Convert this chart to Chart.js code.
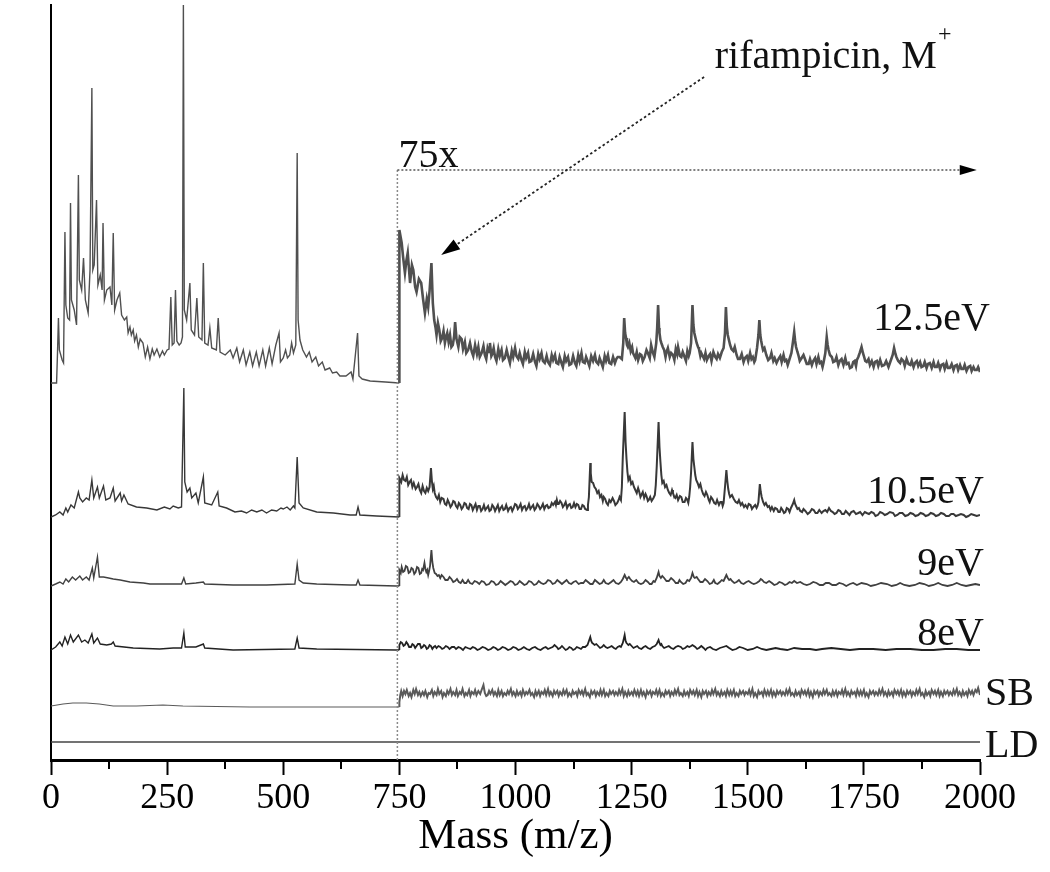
<!DOCTYPE html>
<html>
<head>
<meta charset="utf-8">
<script src="https://cdn.jsdelivr.net/npm/chart.js@4.4.1/dist/chart.umd.min.js"></script>
<style>
  html, body { margin: 0; padding: 0; background: #fff; }
  #wrap { width: 1050px; height: 872px; }
</style>
</head>
<body>
<div id="wrap"><canvas id="spectra" width="1050" height="872"></canvas></div>
<script>
// x axis ticks (m/z)
const massTicks = [0, 250, 500, 750, 1000, 1250, 1500, 1750, 2000];
const minorTicks = [125, 375, 625, 875, 1125, 1375, 1625, 1875];

// trace names, bottom-to-top stacking offsets (display units)
const seriesNames = ['12.5eV', '10.5eV', '9eV', '8eV', 'SB', 'LD'];
const offsets = [377, 243, 174, 110, 53, 18];

// [m/z, intensity above its own baseline]; right part (>750) is shown magnified 75x
const left125 = [[0,0],[12,0],[14,30],[16,65],[18,33],[24,23],[27,20],[30,151],[32,78],[36,65],[40,63],[42,180],[44,83],[50,73],[55,58],[59,208],[61,103],[66,93],[70,125],[74,83],[80,70],[84,113],[88,295],[90,113],[93,118],[98,183],[101,98],[106,108],[110,93],[112,160],[115,83],[120,93],[127,96],[131,78],[134,150],[137,73],[142,83],[148,90],[152,68],[158,63],[163,66],[166,50],[170,56],[173,48],[177,53],[180,42],[184,48],[188,36],[192,44],[198,40],[203,26],[208,36],[213,24],[218,34],[222,28],[228,34],[234,26],[240,32],[244,28],[250,33],[254,34],[258,86],[261,38],[265,40],[268,93],[271,42],[276,38],[280,40],[283,46],[285,378],[287,73],[292,63],[299,100],[302,53],[309,48],[314,85],[318,46],[325,43],[328,120],[331,40],[338,38],[342,55],[346,35],[356,33],[360,65],[364,31],[375,28],[386,33],[392,25],[400,35],[406,21],[414,33],[420,18],[428,31],[434,17],[442,31],[448,17],[456,33],[462,17],[470,35],[476,19],[484,38],[491,50],[494,21],[500,25],[505,33],[509,25],[514,28],[518,40],[522,30],[527,38],[530,230],[532,63],[536,43],[542,33],[550,26],[556,31],[562,21],[570,26],[576,17],[584,21],[590,13],[600,15],[606,10],[615,11],[622,7],[635,7],[646,11],[650,4],[660,50],[663,7],[670,4],[687,2],[720,1],[750,0]];
const right125 = [[750,0],[750,153],[755,140],[758,126],[762,110],[765,122],[768,130],[771,112],[773,100],[777,118],[780,113],[784,96],[787,91],[792,104],[797,100],[801,84],[805,70],[809,84],[812,76],[815,92],[819,120],[822,80],[825,63],[828,55],[830,48],[833,60],[836,53],[839,42],[842,45],[845,52],[848,40],[851,47],[853,50],[856,41],[859,48],[862,36],[865,38],[868,47],[870,61],[873,44],[877,36],[880,46],[884,44],[887,34],[891,41],[894,30],[898,33],[902,40],[906,31],[909,27],[913,38],[917,29],[920,36],[923,26],[927,30],[931,37],[934,28],[937,24],[940,35],[943,31],[945,40],[948,27],[950,29],[953,35],[956,26],[959,22],[963,34],[966,27],[970,33],[973,23],[977,25],[981,33],[985,25],[988,20],[992,32],[995,26],[999,35],[1002,27],[1006,24],[1009,30],[1013,23],[1016,19],[1020,31],[1023,25],[1027,30],[1030,21],[1034,22],[1038,29],[1042,21],[1045,17],[1049,29],[1052,24],[1056,30],[1059,22],[1063,20],[1067,27],[1070,21],[1074,18],[1078,28],[1081,23],[1085,28],[1088,20],[1092,19],[1095,26],[1099,20],[1102,16],[1106,27],[1109,22],[1113,26],[1116,18],[1120,19],[1124,27],[1128,20],[1131,17],[1135,28],[1138,22],[1142,30],[1145,21],[1149,20],[1152,26],[1156,21],[1159,17],[1163,27],[1167,22],[1171,28],[1174,21],[1178,19],[1181,25],[1185,20],[1188,16],[1192,27],[1195,22],[1199,28],[1202,20],[1206,19],[1210,26],[1214,20],[1217,24],[1220,26],[1224,26],[1229,24],[1232,40],[1234,65],[1236,50],[1238,45],[1240,38],[1242,36],[1245,40],[1248,32],[1251,36],[1253,30],[1256,27],[1258,25],[1261,31],[1264,23],[1268,29],[1271,28],[1274,22],[1278,26],[1282,33],[1285,30],[1289,25],[1292,38],[1296,30],[1299,26],[1303,40],[1305,55],[1307,78],[1309,55],[1310,50],[1312,43],[1314,40],[1317,36],[1320,33],[1323,26],[1325,31],[1328,35],[1332,26],[1335,30],[1339,28],[1342,23],[1345,34],[1348,29],[1350,36],[1354,27],[1357,26],[1360,31],[1364,26],[1367,22],[1370,32],[1373,27],[1375,30],[1378,40],[1381,78],[1383,58],[1385,50],[1388,44],[1390,40],[1393,36],[1395,34],[1398,27],[1400,30],[1403,27],[1406,24],[1409,30],[1412,23],[1416,27],[1419,29],[1422,22],[1426,31],[1430,26],[1433,24],[1436,29],[1440,25],[1444,31],[1448,35],[1451,50],[1453,76],[1455,56],[1457,48],[1460,42],[1462,38],[1465,34],[1469,32],[1472,36],[1476,28],[1479,24],[1483,24],[1487,29],[1491,21],[1494,25],[1498,27],[1501,22],[1505,30],[1508,24],[1511,26],[1514,21],[1516,23],[1520,35],[1523,48],[1525,63],[1527,48],[1529,42],[1531,37],[1533,33],[1536,35],[1540,28],[1544,23],[1548,25],[1551,30],[1555,22],[1558,25],[1562,20],[1566,24],[1570,27],[1573,21],[1577,28],[1580,22],[1583,23],[1586,18],[1588,21],[1594,30],[1597,40],[1600,51],[1602,42],[1604,36],[1607,31],[1609,28],[1612,22],[1616,25],[1620,28],[1624,23],[1627,19],[1631,19],[1634,24],[1638,18],[1641,22],[1645,25],[1648,19],[1652,26],[1655,20],[1658,21],[1661,16],[1663,20],[1667,30],[1670,46],[1672,38],[1674,33],[1677,28],[1681,26],[1684,21],[1688,22],[1691,26],[1695,18],[1698,22],[1702,24],[1706,18],[1710,25],[1713,19],[1717,20],[1720,15],[1724,16],[1727,21],[1730,22],[1733,17],[1735,23],[1738,26],[1741,30],[1745,36],[1748,30],[1750,27],[1753,22],[1756,21],[1760,24],[1763,18],[1767,22],[1771,16],[1774,21],[1778,22],[1781,17],[1785,23],[1789,17],[1794,18],[1798,22],[1803,16],[1806,20],[1809,24],[1812,28],[1815,35],[1818,29],[1820,26],[1824,22],[1828,20],[1831,24],[1835,22],[1838,17],[1842,24],[1846,19],[1850,18],[1853,22],[1857,16],[1860,20],[1864,22],[1867,17],[1871,21],[1874,16],[1878,17],[1881,21],[1885,15],[1888,19],[1892,20],[1896,15],[1900,21],[1903,16],[1907,16],[1910,20],[1914,14],[1917,18],[1921,19],[1924,14],[1928,20],[1931,15],[1935,15],[1939,19],[1943,13],[1946,17],[1950,18],[1953,13],[1957,18],[1960,14],[1964,14],[1967,18],[1971,12],[1975,16],[1979,17],[1982,12],[1986,16],[1989,13],[1993,13],[1996,16],[2000,11]];

const left105 = [[0,0],[10,2],[19,5],[26,2],[32,9],[36,5],[43,12],[50,9],[59,25],[62,19],[68,15],[76,19],[82,17],[88,37],[92,19],[100,30],[104,19],[113,31],[118,17],[127,19],[134,29],[138,16],[149,24],[152,16],[157,22],[166,13],[184,10],[206,9],[228,7],[244,10],[256,8],[263,11],[274,9],[281,10],[286,129],[288,35],[293,25],[299,29],[303,19],[312,24],[317,14],[328,40],[331,14],[346,12],[359,25],[362,11],[378,9],[396,5],[410,6],[421,4],[432,7],[443,5],[454,7],[464,4],[475,7],[486,6],[495,9],[500,8],[508,10],[515,7],[522,11],[525,9],[530,60],[534,14],[543,9],[572,5],[608,4],[644,2],[657,2],[661,10],[665,2],[701,1],[750,0]];
const right105 = [[750,0],[750,39],[754,35],[757,42],[760,37],[763,36],[766,40],[769,32],[772,35],[775,37],[778,30],[781,34],[785,28],[788,30],[791,33],[794,27],[797,24],[800,31],[803,26],[806,24],[809,29],[812,26],[815,30],[818,49],[820,36],[822,28],[824,31],[826,24],[829,20],[832,18],[835,22],[838,15],[841,19],[845,18],[848,13],[851,12],[854,17],[857,14],[860,10],[863,12],[866,16],[869,15],[872,11],[875,9],[878,14],[881,12],[884,8],[887,10],[890,14],[893,13],[896,9],[899,8],[902,13],[905,12],[908,7],[911,10],[914,13],[917,7],[920,11],[923,11],[926,6],[929,8],[932,12],[935,7],[938,9],[941,11],[944,6],[947,7],[950,12],[953,10],[956,6],[959,9],[962,12],[965,6],[968,9],[971,11],[974,7],[977,8],[980,12],[984,6],[987,9],[990,10],[993,6],[996,9],[999,13],[1002,12],[1005,8],[1008,10],[1011,13],[1014,7],[1017,10],[1020,11],[1023,7],[1026,9],[1029,13],[1032,8],[1035,10],[1038,12],[1041,7],[1044,9],[1047,13],[1050,11],[1053,8],[1056,10],[1059,13],[1062,8],[1065,11],[1068,12],[1071,9],[1075,10],[1078,14],[1081,12],[1085,15],[1087,12],[1089,17],[1091,13],[1093,13],[1096,16],[1099,14],[1102,10],[1105,12],[1108,15],[1111,9],[1114,12],[1117,13],[1120,9],[1123,10],[1126,14],[1129,10],[1132,13],[1135,12],[1138,8],[1141,8],[1144,12],[1147,11],[1150,8],[1154,7],[1156,12],[1158,20],[1161,54],[1162,44],[1164,35],[1167,34],[1170,30],[1173,28],[1176,24],[1179,26],[1182,20],[1185,22],[1188,16],[1190,20],[1193,18],[1196,14],[1199,12],[1202,17],[1205,15],[1209,19],[1212,16],[1215,12],[1219,14],[1222,17],[1224,20],[1227,17],[1229,30],[1231,60],[1235,105],[1237,75],[1239,58],[1241,45],[1243,37],[1246,40],[1249,33],[1252,35],[1255,30],[1258,27],[1261,24],[1264,29],[1266,26],[1269,20],[1271,22],[1274,25],[1277,19],[1280,23],[1282,21],[1285,16],[1287,17],[1290,20],[1293,16],[1297,19],[1300,22],[1302,32],[1304,50],[1308,95],[1310,70],[1312,55],[1314,42],[1316,34],[1319,36],[1322,30],[1325,32],[1328,27],[1331,24],[1334,22],[1337,27],[1339,24],[1342,20],[1344,19],[1347,22],[1350,17],[1354,21],[1357,20],[1360,15],[1364,15],[1367,19],[1369,18],[1372,14],[1374,20],[1376,30],[1378,45],[1381,75],[1383,58],[1385,50],[1387,42],[1389,37],[1392,34],[1395,30],[1398,33],[1401,27],[1404,23],[1407,21],[1410,25],[1413,22],[1416,17],[1418,15],[1421,20],[1424,18],[1428,14],[1431,13],[1434,17],[1438,12],[1441,15],[1444,15],[1446,11],[1448,14],[1451,30],[1454,47],[1456,36],[1458,28],[1460,23],[1462,20],[1466,22],[1470,18],[1474,15],[1478,14],[1481,17],[1485,12],[1488,14],[1492,10],[1495,12],[1499,9],[1502,13],[1506,12],[1509,8],[1512,10],[1516,12],[1519,9],[1521,11],[1523,15],[1526,33],[1528,25],[1530,20],[1533,15],[1536,12],[1539,14],[1543,10],[1546,11],[1549,7],[1552,10],[1556,6],[1559,9],[1563,8],[1566,5],[1569,5],[1572,9],[1575,7],[1578,4],[1581,5],[1584,9],[1587,8],[1590,5],[1593,9],[1597,13],[1600,17],[1602,13],[1604,11],[1607,8],[1610,9],[1613,6],[1617,5],[1620,8],[1624,6],[1629,3],[1634,5],[1638,8],[1642,7],[1646,4],[1650,4],[1654,7],[1659,4],[1663,6],[1667,7],[1671,5],[1675,9],[1679,6],[1683,5],[1687,3],[1691,4],[1695,7],[1699,6],[1703,3],[1707,3],[1711,6],[1715,4],[1719,2],[1723,5],[1728,6],[1733,3],[1738,4],[1742,5],[1747,2],[1752,5],[1756,4],[1761,3],[1766,5],[1771,4],[1775,1],[1780,2],[1785,5],[1790,4],[1795,2],[1800,3],[1806,5],[1813,4],[1817,1],[1822,2],[1827,4],[1833,4],[1839,1],[1845,2],[1850,4],[1856,3],[1861,1],[1867,2],[1872,4],[1878,3],[1883,1],[1889,2],[1894,4],[1900,3],[1905,1],[1911,2],[1916,4],[1922,3],[1927,1],[1933,1],[1938,3],[1943,3],[1948,1],[1954,2],[1959,3],[1965,2],[1970,0],[1975,1],[1981,3],[1987,2],[1993,1],[2000,2]];

const left9 = [[0,0],[10,2],[19,4],[26,2],[32,7],[38,4],[46,9],[53,6],[62,10],[68,6],[76,9],[82,6],[89,18],[92,8],[100,29],[104,9],[113,9],[124,8],[134,7],[149,6],[170,4],[199,3],[213,2],[251,2],[281,2],[286,8],[290,2],[312,3],[328,4],[331,2],[392,1],[464,1],[525,2],[530,22],[534,6],[543,3],[572,2],[644,1],[657,1],[661,6],[665,1],[744,0],[750,0]];
const right9 = [[750,0],[750,16],[753,13],[755,19],[758,14],[761,15],[764,20],[767,19],[770,13],[773,14],[776,18],[779,17],[782,12],[785,14],[788,19],[791,18],[794,12],[797,13],[799,17],[801,16],[804,23],[806,17],[808,14],[810,16],[812,11],[814,15],[816,20],[819,36],[821,24],[823,18],[826,13],[829,12],[832,10],[835,11],[838,8],[841,11],[845,9],[849,6],[854,6],[858,9],[862,7],[866,4],[870,5],[874,7],[878,4],[882,3],[886,6],[890,3],[894,3],[898,6],[902,3],[907,2],[912,5],[917,4],[922,2],[927,5],[932,4],[937,1],[943,2],[948,5],[953,4],[958,1],[963,2],[968,5],[973,3],[978,1],[984,3],[989,5],[994,4],[999,1],[1004,2],[1009,5],[1014,3],[1019,1],[1024,2],[1029,5],[1034,4],[1040,1],[1045,2],[1050,5],[1055,3],[1060,2],[1065,3],[1070,6],[1075,5],[1080,2],[1085,3],[1090,6],[1095,4],[1100,2],[1105,4],[1110,6],[1115,3],[1120,2],[1125,4],[1130,5],[1136,2],[1141,3],[1146,3],[1151,6],[1156,4],[1161,2],[1166,2],[1171,6],[1176,4],[1181,2],[1186,3],[1190,6],[1194,3],[1200,2],[1206,4],[1211,6],[1216,3],[1222,2],[1227,4],[1231,7],[1235,11],[1238,8],[1240,7],[1244,9],[1247,7],[1251,5],[1255,4],[1260,6],[1265,3],[1270,2],[1275,3],[1280,6],[1285,4],[1289,2],[1293,2],[1297,5],[1300,4],[1304,8],[1308,14],[1310,10],[1313,8],[1316,10],[1320,8],[1325,5],[1330,5],[1335,8],[1340,6],[1345,3],[1350,3],[1353,6],[1356,4],[1361,2],[1366,3],[1370,6],[1374,5],[1378,8],[1381,13],[1384,9],[1386,8],[1390,9],[1393,7],[1398,4],[1403,4],[1408,7],[1413,5],[1418,2],[1423,3],[1427,6],[1430,3],[1435,2],[1440,4],[1444,6],[1448,5],[1451,8],[1454,11],[1457,8],[1460,6],[1463,7],[1466,5],[1471,3],[1476,4],[1481,6],[1486,3],[1491,2],[1497,4],[1502,5],[1508,3],[1513,2],[1519,3],[1522,4],[1525,5],[1528,7],[1531,6],[1535,4],[1540,3],[1546,5],[1552,3],[1557,1],[1563,2],[1568,4],[1574,3],[1580,1],[1585,2],[1590,4],[1595,3],[1600,5],[1603,4],[1606,3],[1613,4],[1620,2],[1627,1],[1634,2],[1641,4],[1648,3],[1655,1],[1662,1],[1668,3],[1675,3],[1682,1],[1690,1],[1697,3],[1705,2],[1712,0],[1720,2],[1727,3],[1735,1],[1745,3],[1756,2],[1765,0],[1775,1],[1787,3],[1800,2],[1810,0],[1820,1],[1828,3],[1837,1],[1848,0],[1860,1],[1870,3],[1880,2],[1890,0],[1900,1],[1910,3],[1919,1],[1930,0],[1940,1],[1950,3],[1960,1],[1970,0],[1980,1],[1990,2],[2000,1]];

const left8 = [[0,0],[10,3],[19,8],[24,4],[30,13],[36,6],[42,15],[48,8],[59,15],[66,8],[73,10],[80,7],[88,16],[92,7],[100,12],[106,6],[120,5],[130,6],[134,8],[138,4],[177,2],[234,1],[263,2],[281,2],[286,17],[289,3],[312,3],[328,6],[331,2],[392,0],[525,1],[530,12],[534,2],[572,1],[744,0],[750,0]];
const right8 = [[750,0],[750,5],[753,8],[756,7],[759,4],[762,5],[765,8],[768,6],[771,3],[775,3],[778,6],[781,5],[784,2],[787,4],[790,6],[794,6],[797,2],[800,3],[803,5],[806,4],[809,1],[812,2],[815,5],[818,4],[821,1],[824,3],[827,4],[830,2],[834,4],[838,3],[842,1],[846,2],[850,4],[854,3],[858,1],[863,3],[868,3],[872,1],[877,3],[882,2],[887,0],[892,3],[897,2],[903,1],[908,3],[913,2],[918,0],[923,1],[929,3],[935,2],[941,0],[947,1],[952,3],[957,2],[962,0],[967,1],[972,3],[978,2],[984,0],[990,1],[995,3],[1001,2],[1006,0],[1012,1],[1018,3],[1024,1],[1030,0],[1036,2],[1042,3],[1048,1],[1054,0],[1060,2],[1065,3],[1070,1],[1075,2],[1080,3],[1084,5],[1089,3],[1092,1],[1096,2],[1100,4],[1104,2],[1108,0],[1112,1],[1116,3],[1120,2],[1124,0],[1128,1],[1132,3],[1137,2],[1141,1],[1145,3],[1150,3],[1155,5],[1158,9],[1161,13],[1163,9],[1165,7],[1168,6],[1170,5],[1174,6],[1178,4],[1182,2],[1186,3],[1190,5],[1194,3],[1198,2],[1203,3],[1207,4],[1212,2],[1216,1],[1220,3],[1224,4],[1227,3],[1231,7],[1235,15],[1237,9],[1239,7],[1241,6],[1243,5],[1246,6],[1250,4],[1254,2],[1258,3],[1262,4],[1266,2],[1271,1],[1276,3],[1280,4],[1285,2],[1290,1],[1295,3],[1300,4],[1304,6],[1308,10],[1310,7],[1312,5],[1314,6],[1316,4],[1320,2],[1325,3],[1330,4],[1335,2],[1340,1],[1345,3],[1350,4],[1356,3],[1360,1],[1365,2],[1370,4],[1374,3],[1378,4],[1381,5],[1384,4],[1387,3],[1391,1],[1395,2],[1400,4],[1405,2],[1409,0],[1413,2],[1419,3],[1425,1],[1432,0],[1440,2],[1447,3],[1454,4],[1457,3],[1460,2],[1467,0],[1475,1],[1482,3],[1490,2],[1500,0],[1511,1],[1520,3],[1530,1],[1540,0],[1550,1],[1560,2],[1570,1],[1585,0],[1600,2],[1617,1],[1634,1],[1647,0],[1660,1],[1680,2],[1700,1],[1720,0],[1740,1],[1770,1],[1797,0],[1820,1],[1850,1],[1875,0],[1900,0],[1925,1],[1950,1],[1975,0],[2000,0]];

const leftSB = [[0,1],[26,3],[47,4],[76,4],[104,3],[134,1],[184,1],[241,2],[284,1],[428,0],[572,0],[750,0]];
const rightSB = [[750,0],[750,5],[752,12],[754,16],[757,11],[760,16],[763,13],[766,17],[770,11],[773,14],[776,10],[780,17],[783,13],[786,18],[790,12],[793,15],[796,11],[800,15],[803,12],[806,16],[810,10],[813,14],[816,13],[820,17],[823,11],[826,15],[830,12],[833,18],[836,13],[840,16],[843,10],[846,14],[850,11],[853,16],[856,13],[860,18],[863,12],[866,15],[870,12],[873,17],[876,11],[880,15],[883,13],[886,18],[890,11],[893,14],[896,12],[900,17],[903,11],[906,15],[910,13],[913,17],[916,12],[920,16],[924,13],[927,17],[931,22],[934,14],[937,11],[940,12],[943,16],[946,13],[950,17],[953,12],[956,15],[960,11],[963,17],[966,12],[970,16],[973,11],[976,14],[980,12],[983,16],[986,13],[990,18],[993,12],[996,15],[1000,11],[1003,16],[1006,12],[1010,15],[1013,11],[1016,17],[1020,12],[1023,15],[1026,13],[1030,17],[1033,12],[1036,14],[1040,10],[1043,16],[1046,12],[1050,16],[1053,11],[1056,15],[1060,13],[1063,17],[1066,12],[1070,18],[1073,12],[1076,15],[1080,11],[1083,16],[1086,13],[1090,16],[1093,11],[1096,15],[1100,12],[1103,17],[1106,13],[1110,17],[1113,11],[1116,14],[1120,11],[1123,16],[1126,13],[1130,15],[1133,11],[1136,17],[1140,13],[1143,16],[1146,12],[1150,18],[1153,12],[1156,14],[1160,10],[1163,16],[1166,13],[1170,16],[1173,11],[1176,15],[1180,12],[1183,17],[1186,12],[1190,17],[1193,11],[1196,14],[1200,11],[1203,16],[1206,13],[1210,16],[1213,12],[1216,15],[1220,12],[1223,17],[1226,13],[1230,18],[1233,11],[1236,15],[1240,11],[1243,16],[1246,12],[1250,15],[1253,12],[1256,17],[1260,12],[1263,16],[1266,11],[1270,17],[1273,12],[1276,15],[1280,10],[1283,16],[1286,13],[1290,16],[1293,11],[1296,15],[1300,13],[1303,17],[1306,12],[1310,17],[1313,11],[1316,14],[1320,11],[1323,16],[1326,13],[1330,16],[1333,11],[1336,15],[1340,12],[1343,17],[1346,13],[1350,18],[1353,12],[1356,14],[1360,11],[1363,16],[1366,12],[1370,15],[1373,11],[1376,17],[1380,13],[1383,16],[1386,12],[1390,17],[1393,11],[1396,15],[1400,10],[1403,16],[1406,13],[1410,16],[1413,11],[1416,15],[1420,12],[1423,17],[1426,13],[1430,18],[1433,12],[1436,15],[1440,11],[1443,16],[1446,12],[1450,15],[1453,11],[1456,17],[1460,12],[1463,16],[1466,12],[1470,17],[1473,11],[1476,14],[1480,11],[1483,16],[1486,13],[1490,16],[1493,12],[1496,15],[1500,13],[1503,17],[1506,12],[1510,18],[1513,11],[1516,14],[1520,10],[1523,16],[1526,13],[1530,15],[1533,11],[1536,17],[1540,12],[1543,16],[1546,12],[1550,17],[1553,11],[1556,15],[1560,11],[1563,16],[1566,13],[1570,16],[1573,12],[1576,15],[1580,12],[1583,17],[1586,13],[1590,18],[1593,12],[1596,14],[1600,11],[1603,16],[1606,12],[1610,15],[1613,11],[1616,17],[1620,13],[1623,16],[1626,12],[1630,17],[1633,11],[1636,15],[1640,10],[1643,16],[1646,13],[1650,16],[1653,11],[1656,15],[1660,12],[1663,17],[1666,13],[1670,17],[1673,12],[1676,14],[1680,11],[1683,16],[1686,12],[1690,16],[1693,11],[1696,15],[1700,13],[1703,17],[1706,12],[1710,18],[1713,12],[1716,15],[1720,11],[1723,16],[1726,13],[1730,15],[1733,11],[1736,17],[1740,12],[1743,16],[1746,12],[1750,17],[1753,11],[1756,14],[1760,10],[1763,16],[1766,13],[1770,16],[1773,12],[1776,15],[1780,12],[1783,17],[1786,13],[1790,18],[1793,12],[1796,15],[1800,11],[1803,16],[1806,12],[1810,15],[1813,11],[1816,17],[1820,13],[1823,16],[1826,12],[1830,17],[1833,11],[1836,15],[1840,11],[1843,16],[1846,13],[1850,16],[1853,11],[1856,15],[1860,12],[1863,17],[1866,13],[1870,18],[1873,12],[1876,14],[1880,10],[1883,16],[1886,12],[1890,15],[1893,11],[1896,17],[1900,13],[1903,16],[1906,12],[1910,17],[1913,11],[1916,15],[1920,11],[1923,16],[1926,13],[1930,16],[1933,12],[1936,15],[1940,12],[1943,17],[1946,13],[1950,18],[1953,12],[1956,15],[1960,11],[1963,16],[1966,12],[1970,15],[1973,11],[1976,17],[1980,13],[1983,16],[1986,12],[1990,17],[1993,15],[1996,19],[2000,12]];

const traceLD = [[0,0],[2000,0]];

// magnification marker and annotation anchor (data units)
const zoomStart = 750;
const zoomLabel = '75x';
const zoomLineLevel = 590;
const arrowFrom = [1406, 683];
const arrowTo = [840, 505];

const seriesParts = [
  [left125, right125],
  [left105, right105],
  [left9, right9],
  [left8, right8],
  [leftSB, rightSB],
  [traceLD]
];
const lineColors = ['#505050', '#383838', '#404040', '#222222', '#5a5a5a', '#444444'];
const leftWidths = [1.4, 1.4, 1.4, 1.4, 1.2, 1.4];
const rightWidths = [2.6, 2.0, 1.8, 1.8, 2.0, 1.4];

const datasets = [];
seriesParts.forEach((parts, i) => {
  parts.forEach((part, j) => {
    datasets.push({
      label: seriesNames[i],
      data: part.map(p => ({ x: p[0], y: p[1] + offsets[i] })),
      borderColor: lineColors[i],
      borderWidth: j === 0 ? leftWidths[i] : rightWidths[i],
      pointRadius: 0,
      tension: 0,
      fill: false
    });
  });
});

const serif = "'Liberation Serif', 'Times New Roman', serif";
Chart.defaults.font.family = serif;
Chart.defaults.color = '#000';

function arrowHead(ctx, x0, y0, x1, y1, len, half) {
  const a = Math.atan2(y1 - y0, x1 - x0);
  ctx.beginPath();
  ctx.moveTo(x1, y1);
  ctx.lineTo(x1 - len * Math.cos(a) + half * Math.sin(a), y1 - len * Math.sin(a) - half * Math.cos(a));
  ctx.lineTo(x1 - len * Math.cos(a) - half * Math.sin(a), y1 - len * Math.sin(a) + half * Math.cos(a));
  ctx.closePath();
  ctx.fill();
}

// minor ticks, dotted magnification marker, arrow and trace labels
const overlay = {
  id: 'overlay',
  afterDraw(chart) {
    const { ctx, chartArea } = chart;
    const xs = chart.scales.x, ys = chart.scales.y;
    ctx.save();

    ctx.strokeStyle = '#000';
    ctx.lineWidth = 2;
    minorTicks.forEach(m => {
      const px = Math.round(xs.getPixelForValue(m));
      ctx.beginPath();
      ctx.moveTo(px, chartArea.bottom);
      ctx.lineTo(px, chartArea.bottom + 9);
      ctx.stroke();
    });

    const zx = xs.getPixelForValue(zoomStart) - 2;
    const zy = ys.getPixelForValue(zoomLineLevel);
    ctx.setLineDash([2, 2]);
    ctx.lineWidth = 1.5;
    ctx.strokeStyle = '#8a8a8a';
    ctx.beginPath();
    ctx.moveTo(zx, zy);
    ctx.lineTo(zx, chartArea.bottom);
    ctx.stroke();

    const endX = xs.getPixelForValue(1993);
    ctx.strokeStyle = '#555';
    ctx.beginPath();
    ctx.moveTo(zx, zy);
    ctx.lineTo(endX - 14, zy);
    ctx.stroke();
    ctx.setLineDash([]);
    ctx.fillStyle = '#000';
    arrowHead(ctx, zx, zy, endX, zy, 17, 5);

    const ax0 = xs.getPixelForValue(arrowFrom[0]), ay0 = ys.getPixelForValue(arrowFrom[1]);
    const ax1 = xs.getPixelForValue(arrowTo[0]), ay1 = ys.getPixelForValue(arrowTo[1]);
    ctx.setLineDash([2.5, 2.5]);
    ctx.lineWidth = 1.8;
    ctx.strokeStyle = '#222';
    ctx.beginPath();
    ctx.moveTo(ax0, ay0);
    ctx.lineTo(ax1 + (ax0 - ax1) * 0.05, ay1 + (ay0 - ay1) * 0.05);
    ctx.stroke();
    ctx.setLineDash([]);
    arrowHead(ctx, ax0, ay0, ax1, ay1, 19, 6);

    ctx.fillStyle = '#111';
    ctx.font = '40px ' + serif;
    ctx.textBaseline = 'alphabetic';
    ctx.textAlign = 'left';
    ctx.fillText(zoomLabel, zx + 1, zy - 3);
    const rx = xs.getPixelForValue(1429);
    const ry = ys.getPixelForValue(692);
    ctx.fillText('rifampicin, M', rx, ry);
    const w = ctx.measureText('rifampicin, M').width;
    ctx.font = '24px ' + serif;
    ctx.fillText('+', rx + w + 1, ry - 27);

    // trace labels: [anchor, x offset from plot edge, lift above baseline]
    const labelPos = [['right', 10, 53], ['right', 4, 14], ['right', 4, 11], ['right', 4, 5], ['left', 5, 2], ['left', 5, -15]];
    ctx.font = '40px ' + serif;
    seriesNames.forEach((name, i) => {
      const [align, dx, lift] = labelPos[i];
      ctx.textAlign = align;
      ctx.fillText(name, chartArea.right + dx, ys.getPixelForValue(offsets[i]) - lift);
    });
    ctx.restore();
  }
};

new Chart(document.getElementById('spectra'), {
  type: 'line',
  data: { datasets: datasets },
  options: {
    responsive: false,
    animation: false,
    layout: { padding: { left: 51, right: 70, top: 5, bottom: 0 } },
    plugins: { legend: { display: false }, tooltip: { enabled: false } },
    scales: {
      x: {
        type: 'linear',
        min: 0,
        max: 2000,
        afterFit: s => { s.height = 112; },
        afterBuildTicks: s => { s.ticks = massTicks.map(v => ({ value: v })); },
        ticks: { color: '#000', font: { size: 36 }, padding: 2, maxRotation: 0, autoSkip: false, callback: v => String(v) },
        grid: { display: true, drawOnChartArea: false, drawTicks: true, tickLength: 15, tickWidth: 2, tickColor: '#000' },
        border: { display: true, color: '#000', width: 3 },
        title: { display: true, text: 'Mass (m/z)', color: '#000', font: { size: 43, lineHeight: 1 }, padding: { top: 0, bottom: 14 } }
      },
      y: {
        type: 'linear',
        min: 0,
        max: 755,
        afterFit: s => { s.width = 0; },
        ticks: { display: false },
        grid: { display: false },
        border: { display: true, color: '#000', width: 2 }
      }
    }
  },
  plugins: [overlay]
});
</script>
</body>
</html>
